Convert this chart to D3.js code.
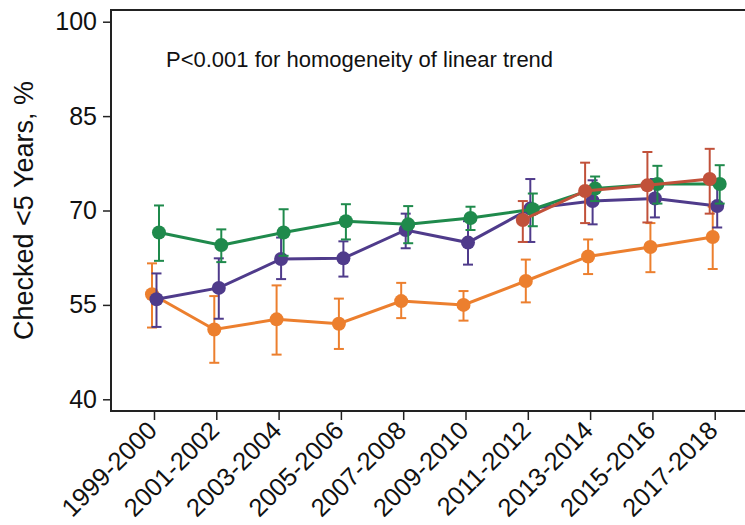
<!DOCTYPE html>
<html>
<head>
<meta charset="utf-8">
<script src="https://cdn.jsdelivr.net/npm/d3@7"></script>
<style>
  body { margin: 0; background: #fff; }
  svg { font-family: "Liberation Sans", Arial, Helvetica, sans-serif; }
</style>
</head>
<body>
<div class="chart"></div>
<script>
var margin = {top: 10, right: 0, bottom: 114, left: 111},
  width = 745,
  height = 525,
  plotheight = height - margin.top - margin.bottom;

// period labels on the x axis
const periods = ["1999-2000", "2001-2002", "2003-2004", "2005-2006", "2007-2008",
                 "2009-2010", "2011-2012", "2013-2014", "2015-2016", "2017-2018"];
const yTicks = [40, 55, 70, 85, 100];

// point estimates and 95% CI, one array per group
const orangeVals = [56.7, 51.1, 52.7, 52.0, 55.6, 55.0, 58.8, 62.7, 64.2, 65.8];
const orangeLow  = [51.4, 45.8, 47.1, 48.0, 52.9, 52.5, 55.4, 59.9, 60.2, 60.7];
const orangeHigh = [61.6, 56.4, 58.1, 56.0, 58.5, 57.2, 62.2, 65.4, 68.0, 70.6];

const purpleVals = [55.9, 57.7, 62.3, 62.4, 66.9, 64.9, 70.3, 71.5, 71.9, 70.7];
const purpleLow  = [51.5, 52.8, 59.1, 59.5, 64.0, 61.4, 65.0, 67.8, 68.9, 67.3];
const purpleHigh = [60.0, 62.4, 65.7, 65.1, 69.5, 68.3, 75.0, 74.8, 75.0, 74.1];

const greenVals = [66.5, 64.5, 66.5, 68.3, 67.8, 68.8, 70.2, 73.5, 74.2, 74.2];
const greenLow  = [62.0, 61.8, 62.8, 65.4, 64.8, 66.9, 67.5, 71.5, 71.1, 71.1];
const greenHigh = [70.8, 67.0, 70.2, 71.0, 70.7, 70.6, 72.7, 75.4, 77.1, 77.2];

const redPeriods = ["2011-2012", "2013-2014", "2015-2016", "2017-2018"];
const redVals = [68.5, 73.1, 74.0, 75.0];
const redLow  = [65.0, 68.0, 68.1, 69.5];
const redHigh = [71.5, 77.6, 79.3, 79.8];

const annotation = "P<0.001 for homogeneity of linear trend";
const yTitle = "Checked <5 Years, %";

function rows(cats, vals, lo, hi) {
    return cats.map(function(c, i) { return {cat: c, v: vals[i], lo: lo[i], hi: hi[i]}; });
}

// draw order: orange, purple, green, red on top
var series = [
    {color: "#ec7f2e", shift: -2, data: rows(periods, orangeVals, orangeLow, orangeHigh)},
    {color: "#4f3b8b", shift: 2.5, data: rows(periods, purpleVals, purpleLow, purpleHigh)},
    {color: "#1f8a4c", shift: 5, data: rows(periods, greenVals, greenLow, greenHigh)},
    {color: "#c1513a", shift: -5, data: rows(redPeriods, redVals, redLow, redHigh)}
];

var svg = d3.select(".chart")
  .append("svg")
  .attr("width", width)
  .attr("height", height);

var x = d3.scalePoint()
  .domain(periods)
  .range([margin.left, margin.left + 646.7])
  .padding(0.69);

var y = d3.scaleLinear()
  .domain([38.14, 101.86])
  .range([margin.top + plotheight, margin.top]);

// frame (right side falls outside the picture)
svg.append("path")
  .attr("d", "M" + (width + 20) + "," + margin.top + "H" + margin.left +
             "V" + (margin.top + plotheight) + "H" + (width + 20))
  .style("fill", "none")
  .style("stroke", "#222")
  .style("stroke-width", 2);

// y axis
var yaxis = svg.append("g")
  .attr("transform", "translate(" + margin.left + ",0)")
  .call(d3.axisLeft(y).tickValues(yTicks).tickSize(8).tickPadding(6));
yaxis.select(".domain").remove();
yaxis.selectAll(".tick line").style("stroke", "#222").style("stroke-width", 1.5);
yaxis.selectAll(".tick text").style("font-size", "25px").style("fill", "#111")
  .style("font-family", "'Liberation Sans', Arial, sans-serif");

// x axis
var xaxis = svg.append("g")
  .attr("transform", "translate(0," + (margin.top + plotheight) + ")")
  .call(d3.axisBottom(x).tickSize(9).tickPadding(3));
xaxis.select(".domain").remove();
xaxis.selectAll(".tick line").style("stroke", "#222").style("stroke-width", 1.5);
xaxis.selectAll(".tick text")
  .attr("x", 0).attr("y", 0).attr("dy", 0)
  .attr("transform", "translate(4,21) rotate(-45)")
  .style("text-anchor", "end")
  .style("font-size", "25.5px").style("fill", "#111")
  .style("font-family", "'Liberation Sans', Arial, sans-serif");

// axis title
svg.append("text")
  .attr("transform", "rotate(-90)")
  .attr("x", -(margin.top + plotheight / 2))
  .attr("y", 33)
  .attr("text-anchor", "middle")
  .style("font-size", "27px")
  .style("fill", "#111")
  .text(yTitle);

svg.append("text")
  .attr("x", 166)
  .attr("y", 67)
  .style("font-size", "22px")
  .style("fill", "#111")
  .text(annotation);

var line = d3.line()
  .x(function(d) { return d.px; })
  .y(function(d) { return y(d.v); });

series.forEach(function(s) {
    s.data.forEach(function(d) { d.px = x(d.cat) + s.shift; });
    var g = svg.append("g");

    // error bars
    var eb = g.selectAll(".err").data(s.data).enter().append("g");
    eb.append("line")
      .attr("x1", d => d.px).attr("x2", d => d.px)
      .attr("y1", d => y(d.lo)).attr("y2", d => y(d.hi));
    eb.append("line")
      .attr("x1", d => d.px - 5).attr("x2", d => d.px + 5)
      .attr("y1", d => y(d.lo)).attr("y2", d => y(d.lo));
    eb.append("line")
      .attr("x1", d => d.px - 5).attr("x2", d => d.px + 5)
      .attr("y1", d => y(d.hi)).attr("y2", d => y(d.hi));
    eb.selectAll("line").style("stroke", s.color).style("stroke-width", 2);

    g.append("path")
      .attr("d", line(s.data))
      .style("fill", "none")
      .style("stroke", s.color)
      .style("stroke-width", 3);

    g.selectAll("circle").data(s.data).enter().append("circle")
      .attr("cx", d => d.px)
      .attr("cy", d => y(d.v))
      .attr("r", 7)
      .style("fill", s.color);
});
</script>
</body>
</html>
